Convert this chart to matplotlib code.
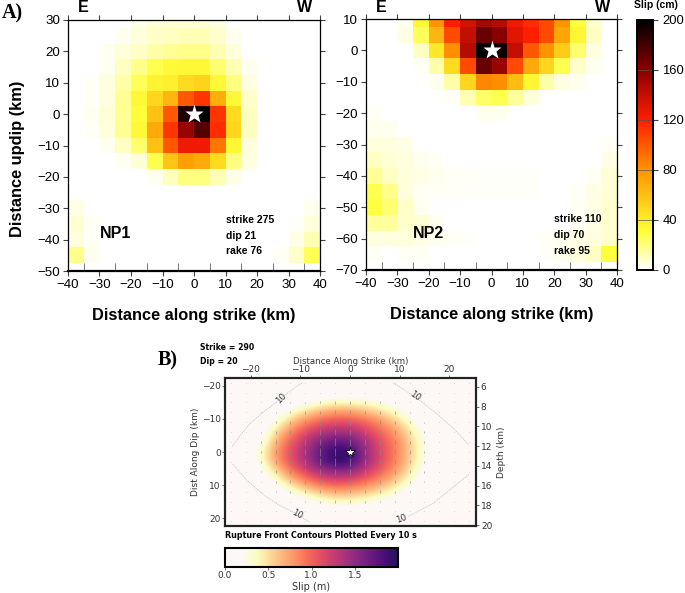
import matplotlib
matplotlib.use("Agg")
import matplotlib.pyplot as plt
import numpy as np
from matplotlib.colors import LinearSegmentedColormap, Normalize
from matplotlib.cm import ScalarMappable

W, H = 685, 593
SANS = "Liberation Sans"
SERIF = "Liberation Serif"

# along strike cell centres for the two nodal plane grids (left edge + 2.5)
strike_centres = [-37.5, -32.5, -27.5, -22.5, -17.5, -12.5, -7.5, -2.5, 2.5, 7.5, 12.5, 17.5, 22.5, 27.5, 32.5, 37.5]
np1_dip = [30, 25, 20, 15, 10, 5, 0, -5, -10, -15, -20, -25, -30, -35, -40, -45, -50]
np2_dip = [10, 5, 0, -5, -10, -15, -20, -25, -30, -35, -40, -45, -50, -55, -60, -65, -70]

np1_slip = [
    [0, 0, 0, 0, 4, 7, 7, 7, 7, 5, 0, 0, 0, 0, 0, 0],
    [0, 0, 0, 3, 6, 9, 10, 11, 11, 8, 3, 0, 0, 0, 0, 0],
    [0, 0, 3, 6, 9, 14, 17, 18, 18, 12, 6, 0, 0, 0, 0, 0],
    [0, 0, 3, 10, 18, 28, 33, 34, 34, 22, 12, 3, 0, 0, 0, 0],
    [0, 2, 5, 14, 26, 36, 38, 48, 52, 34, 20, 5, 0, 0, 0, 0],
    [0, 2, 5, 17, 34, 50, 65, 100, 112, 68, 34, 8, 0, 0, 0, 0],
    [0, 3, 7, 17, 32, 60, 100, 190, 200, 112, 48, 10, 0, 0, 0, 0],
    [0, 2, 6, 17, 34, 70, 112, 155, 175, 115, 50, 10, 0, 0, 0, 0],
    [0, 0, 3, 10, 22, 60, 100, 125, 125, 90, 35, 5, 0, 0, 0, 0],
    [0, 0, 0, 3, 7, 28, 58, 75, 70, 48, 20, 5, 0, 0, 0, 0],
    [0, 0, 0, 0, 0, 3, 10, 20, 20, 12, 4, 0, 0, 0, 0, 0],
    [0, 0, 0, 0, 0, 0, 0, 0, 0, 0, 0, 0, 0, 0, 0, 0],
    [4, 0, 0, 0, 0, 0, 0, 0, 0, 0, 0, 0, 0, 0, 0, 3],
    [7, 2, 0, 0, 0, 0, 0, 0, 0, 0, 0, 0, 0, 0, 1, 6],
    [5, 2, 0, 0, 0, 0, 0, 0, 0, 0, 0, 0, 0, 0, 4, 12],
    [18, 3, 0, 0, 0, 0, 0, 0, 0, 0, 0, 0, 0, 2, 8, 26],
    [0, 0, 0, 0, 0, 0, 0, 0, 0, 0, 0, 0, 0, 0, 0, 0],
]

np2_slip = [
    [0, 0, 3, 35, 80, 120, 135, 150, 145, 125, 115, 105, 80, 30, 8, 0],
    [0, 0, 4, 25, 65, 105, 140, 170, 160, 130, 120, 105, 72, 35, 10, 0],
    [0, 0, 0, 10, 42, 82, 145, 200, 195, 140, 100, 80, 55, 22, 5, 0],
    [0, 0, 0, 2, 14, 48, 105, 170, 155, 105, 70, 50, 28, 8, 3, 0],
    [0, 0, 0, 0, 3, 14, 50, 85, 82, 62, 35, 14, 5, 3, 0, 0],
    [0, 0, 0, 0, 0, 2, 12, 24, 28, 16, 6, 0, 0, 0, 0, 0],
    [2, 0, 0, 0, 0, 0, 0, 3, 3, 0, 0, 0, 0, 0, 0, 0],
    [3, 3, 0, 0, 0, 0, 0, 0, 0, 0, 0, 0, 0, 0, 0, 0],
    [6, 5, 4, 0, 0, 0, 0, 0, 0, 0, 0, 0, 0, 0, 0, 2],
    [10, 7, 5, 3, 2, 0, 0, 0, 0, 0, 0, 0, 0, 0, 0, 4],
    [17, 10, 6, 4, 3, 2, 2, 1, 1, 1, 1, 0, 0, 0, 2, 7],
    [28, 18, 6, 2, 2, 2, 1, 1, 1, 1, 1, 0, 0, 1, 4, 7],
    [30, 22, 9, 3, 0, 0, 0, 0, 0, 0, 0, 0, 0, 2, 4, 8],
    [15, 15, 8, 7, 3, 0, 0, 0, 0, 0, 0, 0, 0, 2, 4, 8],
    [5, 5, 6, 4, 3, 2, 1, 0, 0, 0, 0, 2, 3, 4, 5, 8],
    [2, 0, 2, 2, 0, 0, 0, 0, 0, 0, 0, 1, 3, 5, 10, 30],
    [0, 0, 0, 0, 0, 0, 0, 0, 0, 0, 0, 0, 0, 0, 0, 0],
]

# panel B slip in metres on the 3 km fault grid
fault_strike = [-24, -21, -18, -15, -12, -9, -6, -3, 0, 3, 6, 9, 12, 15, 18, 21, 24]
fault_dip = [-21, -18, -15, -12, -9, -6, -3, 0, 3, 6, 9, 12, 15, 18, 21]
fault_slip = [
    [0, 0, 0, 0, 0, 0, 0, 0, 0, 0, 0, 0, 0, 0, 0, 0, 0],
    [0, 0, 0, 0, 0, 0, 0, 0, 0, 0, 0, 0, 0, 0, 0, 0, 0],
    [0, 0, 0, 0, 0.02, 0.12, 0.3, 0.38, 0.38, 0.33, 0.25, 0.1, 0, 0, 0, 0, 0],
    [0, 0, 0, 0.02, 0.33, 0.55, 0.7, 0.78, 0.78, 0.68, 0.55, 0.37, 0.1, 0, 0, 0, 0],
    [0, 0, 0, 0.28, 0.62, 0.85, 1.02, 1.12, 1.12, 1.0, 0.82, 0.62, 0.35, 0.02, 0, 0, 0],
    [0, 0, 0.03, 0.52, 0.85, 1.12, 1.32, 1.42, 1.4, 1.22, 1.0, 0.78, 0.5, 0.15, 0, 0, 0],
    [0, 0, 0.18, 0.68, 1.02, 1.32, 1.6, 1.75, 1.7, 1.42, 1.12, 0.88, 0.6, 0.22, 0, 0, 0],
    [0, 0, 0.32, 0.78, 1.1, 1.4, 1.72, 1.97, 1.92, 1.48, 1.15, 0.9, 0.6, 0.24, 0, 0, 0],
    [0, 0, 0.28, 0.74, 1.08, 1.38, 1.7, 1.95, 1.9, 1.48, 1.15, 0.88, 0.58, 0.2, 0, 0, 0],
    [0, 0, 0.08, 0.52, 0.85, 1.15, 1.38, 1.5, 1.45, 1.25, 1.0, 0.78, 0.48, 0.12, 0, 0, 0],
    [0, 0, 0, 0.25, 0.58, 0.82, 1.02, 1.12, 1.08, 0.95, 0.78, 0.58, 0.3, 0.02, 0, 0, 0],
    [0, 0, 0, 0.02, 0.25, 0.48, 0.62, 0.72, 0.7, 0.62, 0.5, 0.33, 0.08, 0, 0, 0, 0],
    [0, 0, 0, 0, 0, 0.1, 0.26, 0.36, 0.36, 0.3, 0.2, 0.08, 0, 0, 0, 0, 0],
    [0, 0, 0, 0, 0, 0, 0, 0, 0, 0, 0, 0, 0, 0, 0, 0, 0],
    [0, 0, 0, 0, 0, 0, 0, 0, 0, 0, 0, 0, 0, 0, 0, 0, 0],
]

# 10 s rupture front pieces
front_ul_x = [-23.8, -22.1, -20.1, -17.4, -14.9, -12.9, -11.4, -9.7]
front_ul_y = [-1.6, -5.1, -8.7, -12.2, -15.0, -17.5, -19.2, -20.9]
front_ur_x = [8.7, 11.1, 14.4, 17.4, 20.8, 24.0]
front_ur_y = [-20.9, -18.7, -15.2, -11.7, -7.2, -2.1]
front_ll_x = [-23.7, -20.8, -17.4, -14.4, -11.7, -9.7, -8.2]
front_ll_y = [3.6, 8.5, 13.0, 16.0, 18.0, 19.8, 21.1]
front_lr_x = [11.7, 16.8, 20.1, 24.0]
front_lr_y = [19.5, 15.5, 11.5, 6.7]

cm_ticks = [0, 40, 80, 120, 160, 200]
m_ticks = [0.0, 0.5, 1.0, 1.5]

slip_cmap = LinearSegmentedColormap.from_list(
    "slip_cm",
    [(0, "#ffffff"), (0.15, "#ffff3c"), (0.22, "#ffe324"), (0.4, "#ff9400"), (0.6, "#ff1e00"), (0.8, "#8a0000"), (1, "#000000")],
)

# magma_r with an off-white foot
magma = plt.get_cmap("magma")
stops = [(0, "#fdf8f6"), (0.09, "#fdf8f6")]
for v in np.arange(0.37, 2.001, 0.1):
    stops.append((v / 2.0, magma(1 - (v - 0.37) / 1.63 * 0.85)))
stops.append((1, magma(0.15)))
fault_cmap = LinearSegmentedColormap.from_list("slip_m", stops)


def px_axes(fig, left, top, right, bottom):
    return fig.add_axes([left / W, 1 - bottom / H, (right - left) / W, (bottom - top) / H])


def px_text(fig, x, y, s, **kw):
    kw.setdefault("va", "center")
    return fig.text(x / W, 1 - y / H, s, **kw)


def slip_panel(fig, box, dips, slip, ylim):
    ax = px_axes(fig, *box)
    ax.pcolormesh(strike_centres, dips, slip, cmap=slip_cmap, vmin=0, vmax=200, shading="nearest", rasterized=True)
    ax.set_xlim(-40, 40)
    ax.set_ylim(*ylim)
    ax.set_xticks(range(-40, 41, 10))
    ax.set_yticks(range(ylim[0], ylim[1] + 1, 10))
    ax.set_xticks(range(-40, 41, 5), minor=True)
    ax.tick_params(axis="both", which="major", labelsize=9.6, length=3.8, width=0.8, color="#444444", top=True, right=True, pad=2)
    ax.tick_params(axis="x", which="minor", direction="in", length=5.5, width=0.7, color="#777777")
    for lab in ax.get_xticklabels() + ax.get_yticklabels():
        lab.set_family(SANS)
    for sp in ax.spines.values():
        sp.set_linewidth(0.9)
    ax.spines["bottom"].set_linewidth(1.6)
    ax.plot([0], [0], marker="*", ms=14, color="white", mec="none", zorder=5)
    ax.set_xlabel("Distance along strike (km)", family=SANS, weight="bold", fontsize=11.8, labelpad=12)
    return ax


fig = plt.figure(figsize=(W / 100, H / 100), dpi=100)

ax1 = slip_panel(fig, (68, 20, 320, 271), np1_dip, np1_slip, (-50, 30))
ax1.set_ylabel("Distance updip (km)", family=SANS, weight="bold", fontsize=11.8)
ax1.yaxis.set_label_coords(-0.17, 0.446)
ax2 = slip_panel(fig, (366, 19, 617, 270), np2_dip, np2_slip, (-70, 10))

# slip colour bar for the two GMT panels
cax = px_axes(fig, 637, 20, 653, 270)
cb = fig.colorbar(ScalarMappable(Normalize(0, 200), slip_cmap), cax=cax, ticks=cm_ticks)
cb.ax.tick_params(labelsize=9.4, length=3.8, width=0.8, color="#444444", pad=3)
for lab in cb.ax.get_yticklabels():
    lab.set_family(SANS)
cb.outline.set_linewidth(1.4)
cb.ax.hlines(cm_ticks[1:-1], 0, 1, transform=cb.ax.get_yaxis_transform(), colors="#555555", lw=0.5)

px_text(fig, 634, 5, "Slip (cm)", family=SANS, weight="bold", fontsize=7.5)
px_text(fig, 2, 13, "A)", family=SERIF, weight="bold", fontsize=14.5)
px_text(fig, 158, 360, "B)", family=SERIF, weight="bold", fontsize=14.5)

for x, s in [(83, "E"), (305, "W"), (381, "E"), (603, "W")]:
    px_text(fig, x, 8, s, family=SANS, weight="bold", fontsize=11.5, ha="center")

px_text(fig, 100, 234, "NP1", family=SANS, weight="bold", fontsize=11.5)
px_text(fig, 413, 234, "NP2", family=SANS, weight="bold", fontsize=11.5)
for y, s in zip([220, 236, 251], ["strike 275", "dip 21", "rake 76"]):
    px_text(fig, 226, y, s, family=SANS, weight="bold", fontsize=7.5)
for y, s in zip([219, 235, 251], ["strike 110", "dip 70", "rake 95"]):
    px_text(fig, 554, y, s, family=SANS, weight="bold", fontsize=7.5)

# panel B
ax3 = px_axes(fig, 225, 378, 476, 526)
ax3.imshow(
    fault_slip,
    extent=[-25.5, 25.5, 22.5, -22.5],
    aspect="auto",
    cmap=fault_cmap,
    vmin=0,
    vmax=2.0,
    interpolation="bicubic",
)
ax3.set_xlim(-25.2, 25.4)
ax3.set_ylim(22.4, -22.4)

# rake arrows are near vertical, length follows slip, almost nothing where slip is 0
grid_x, grid_y = np.meshgrid(fault_strike, fault_dip)
slip_arr = np.array(fault_slip)
moving = slip_arr > 0
ax3.vlines(
    grid_x[moving],
    grid_y[moving] - 0.55 * slip_arr[moving] - 0.15,
    grid_y[moving] + 0.55 * slip_arr[moving] + 0.15,
    colors="#8a8a8a",
    lw=0.6,
    alpha=0.7,
)
ax3.scatter(grid_x[~moving], grid_y[~moving], s=0.4, color="#aaaaaa", alpha=0.35, linewidths=0)

for xs, ys in [(front_ul_x, front_ul_y), (front_ur_x, front_ur_y), (front_ll_x, front_ll_y), (front_lr_x, front_lr_y)]:
    ax3.plot(xs, ys, color="#c4c4c4", lw=0.5, ls=(0, (2, 1)))
for x, y, rot in [(-13.9, -16.3, 45), (13.1, -16.9, -35), (-10.7, 19.0, -28), (10.4, 20.2, 20)]:
    ax3.text(x, y, "10", fontsize=6.2, rotation=rot, ha="center", va="center", color="#333333")

ax3.plot([0], [0], marker="*", ms=7, color="white", mec="black", mew=0.6, zorder=5)
ax3.set_xticks([-20, -10, 0, 10, 20])
ax3.set_yticks([-20, -10, 0, 10, 20])
ax3.xaxis.tick_top()
ax3.xaxis.set_label_position("top")
ax3.tick_params(labelsize=6.5, length=2, width=0.5, pad=1, colors="#333333")
ax3.set_xlabel("Distance Along Strike (km)", fontsize=6.2, color="#333333", labelpad=0.5)
ax3.set_ylabel("Dist Along Dip (km)", fontsize=6.5, color="#333333", labelpad=1)
for sp in ax3.spines.values():
    sp.set_linewidth(1.5)
    sp.set_color("#222222")

depth = ax3.twinx()
depth.set_ylim(20.1, 5.09)
depth.set_yticks(range(6, 21, 2))
depth.tick_params(labelsize=6.5, length=2, width=0.5, pad=1.5, colors="#333333")
depth.set_ylabel("Depth (km)", fontsize=6.5, color="#333333")
depth.yaxis.set_label_coords(1.085, 0.5)
for sp in depth.spines.values():
    sp.set_linewidth(1.5)
    sp.set_color("#222222")

px_text(fig, 200, 348, "Strike = 290", weight="bold", fontsize=5.6)
px_text(fig, 200, 362, "Dip = 20", weight="bold", fontsize=5.6)
px_text(fig, 225, 535, "Rupture Front Contours Plotted Every 10 s", weight="bold", fontsize=5.8)

cax2 = px_axes(fig, 225, 548, 398, 567)
cb2 = fig.colorbar(ScalarMappable(Normalize(0, 2.0), fault_cmap), cax=cax2, orientation="horizontal", ticks=m_ticks)
cb2.ax.tick_params(labelsize=6.5, length=2, width=0.5, pad=1, colors="#333333")
cb2.outline.set_linewidth(1.5)
cb2.set_label("Slip (m)", fontsize=7, color="#333333", labelpad=1.5)

fig.savefig("out.png", dpi=100)
